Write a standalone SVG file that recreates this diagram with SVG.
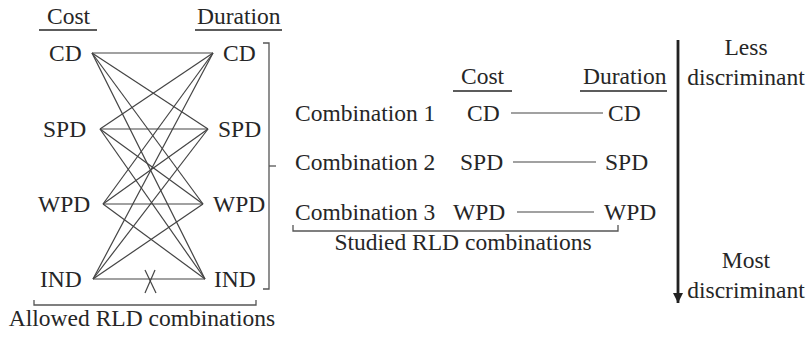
<svg xmlns="http://www.w3.org/2000/svg" width="808" height="337" viewBox="0 0 808 337">
<style>
text{font-family:"Liberation Serif","Times New Roman",serif;font-size:23.5px;fill:#262626}
.c{text-anchor:middle}
.ln{stroke:#444;stroke-width:1.2;fill:none}
.br{stroke:#555;stroke-width:1.3;fill:none}
.ul{stroke:#262626;stroke-width:1.6}
</style>
<defs>
<marker id="ah" viewBox="0 0 10 10" refX="10" refY="5" markerWidth="3.6" markerHeight="3.6" orient="auto" markerUnits="strokeWidth">
<path d="M0,0 L10,5 L0,10 Z" fill="#222"/>
</marker>
</defs>
<rect width="808" height="337" fill="#fff"/>

<g id="headers">
<text x="47" y="24">Cost</text>
<line class="ul" x1="39" y1="30" x2="97" y2="30"/>
<text x="197" y="24">Duration</text>
<line class="ul" x1="195" y1="30" x2="282" y2="30"/>
<text x="461" y="84">Cost</text>
<line class="ul" x1="453" y1="91" x2="512" y2="91"/>
<text x="583" y="84">Duration</text>
<line class="ul" x1="580" y1="91" x2="667" y2="91"/>
</g>

<g id="left-cost">
<g id="L-CD"><text x="49" y="61">CD</text></g>
<g id="L-SPD"><text x="43" y="137">SPD</text></g>
<g id="L-WPD"><text x="38" y="212">WPD</text></g>
<g id="L-IND"><text x="40" y="287">IND</text></g>
</g>
<g id="left-duration">
<g id="R-CD"><text x="223" y="61">CD</text></g>
<g id="R-SPD"><text x="218" y="137">SPD</text></g>
<g id="R-WPD"><text x="213" y="212">WPD</text></g>
<g id="R-IND"><text x="214" y="287">IND</text></g>
</g>

<g id="connectors" class="ln">
<line x1="92" y1="53" x2="213" y2="53"/>
<line x1="92" y1="53" x2="208" y2="129"/>
<line x1="92" y1="53" x2="203" y2="204"/>
<line x1="92" y1="53" x2="205" y2="279"/>
<line x1="100" y1="129" x2="213" y2="53"/>
<line x1="100" y1="129" x2="208" y2="129"/>
<line x1="100" y1="129" x2="203" y2="204"/>
<line x1="100" y1="129" x2="205" y2="279"/>
<line x1="103" y1="204" x2="213" y2="53"/>
<line x1="103" y1="204" x2="208" y2="129"/>
<line x1="103" y1="204" x2="203" y2="204"/>
<line x1="103" y1="204" x2="205" y2="279"/>
<line x1="93" y1="279" x2="213" y2="53"/>
<line x1="93" y1="279" x2="208" y2="129"/>
<line x1="93" y1="279" x2="203" y2="204"/>
<line x1="93" y1="279" x2="205" y2="279"/>
<line x1="145" y1="270" x2="156" y2="293"/>
<line x1="155" y1="270" x2="145" y2="293"/>
<line x1="511" y1="113" x2="603" y2="113"/>
<line x1="513" y1="162" x2="596" y2="162"/>
<line x1="517" y1="212" x2="594" y2="212"/>
</g>

<g id="brackets" class="br">
<path d="M263,43 H269 V289 H263"/>
<path d="M269,166 H276"/>
<path d="M34,300 V305 H256 V300"/>
<path d="M293,225 V231 H618 V225"/>
</g>

<g id="bracket-labels">
<text class="c" x="142" y="326">Allowed RLD combinations</text>
<text class="c" x="463" y="250">Studied RLD combinations</text>
</g>

<g id="combinations">
<g id="combo1"><text x="295" y="121">Combination 1</text><text x="467" y="121">CD</text><text x="608" y="121">CD</text></g>
<g id="combo2"><text x="295" y="170">Combination 2</text><text x="460" y="170">SPD</text><text x="605" y="170">SPD</text></g>
<g id="combo3"><text x="295" y="220">Combination 3</text><text x="453" y="220">WPD</text><text x="604" y="220">WPD</text></g>
</g>

<g id="scale">
<line x1="678" y1="40" x2="678" y2="303" stroke="#222" stroke-width="2.8" marker-end="url(#ah)"/>
<text class="c" x="746" y="55">Less</text>
<text class="c" x="746" y="85">discriminant</text>
<text class="c" x="746" y="268">Most</text>
<text class="c" x="746" y="298">discriminant</text>
</g>
</svg>
